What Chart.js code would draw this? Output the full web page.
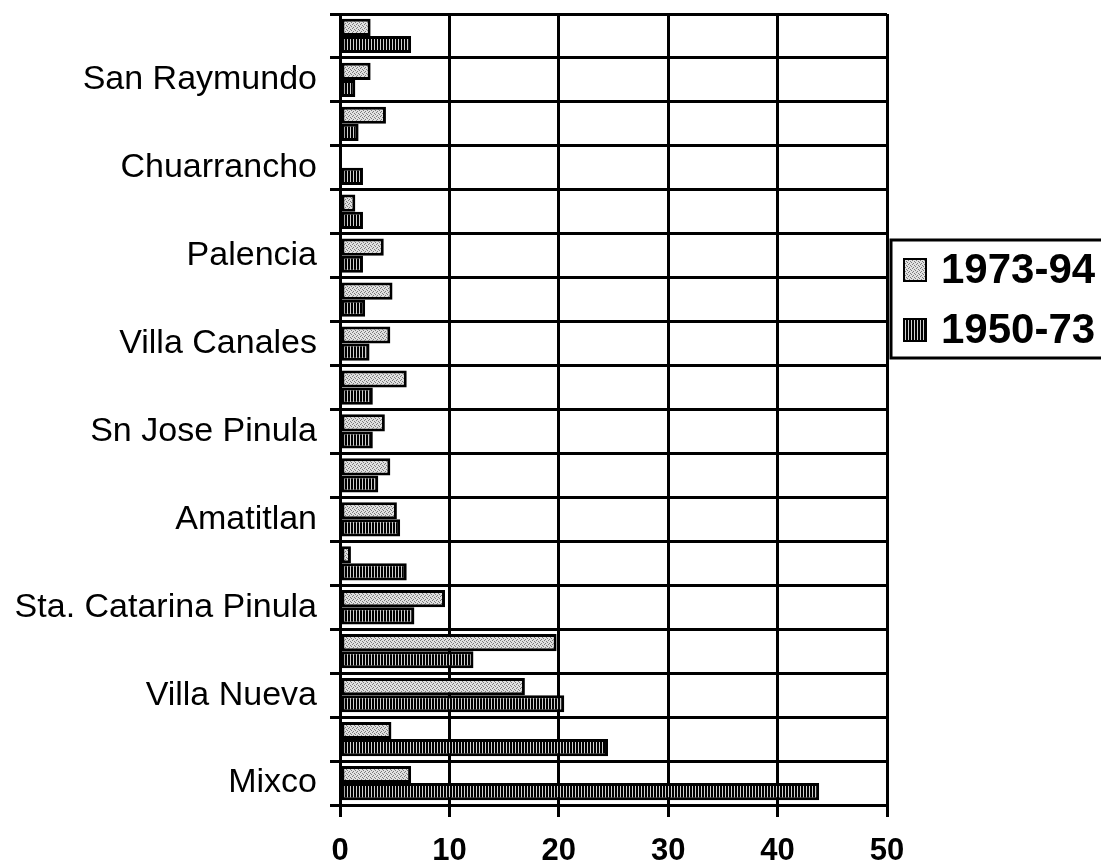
<!DOCTYPE html>
<html>
<head>
<meta charset="utf-8">
<script src="https://cdn.jsdelivr.net/npm/chart.js@4.4.0/dist/chart.umd.min.js"></script>
<style>
html,body{margin:0;padding:0;background:#fff;}
#wrap{width:1101px;height:862px;}
</style>
</head>
<body>
<div id="wrap"><canvas id="chart-mun" width="1101" height="862"></canvas></div>
<script>
// ==================================================
// Data (top to bottom, as drawn)
// ==================================================
const CATEGORIES=['','San Raymundo','','Chuarrancho','','Palencia','','Villa Canales','','Sn Jose Pinula','','Amatitlan','','Sta. Catarina Pinula','','Villa Nueva','','Mixco'];
const SERIES_NAMES=['1973-94','1950-73'];
const VALS_7394=[2.8,2.8,4.2,0,1.4,4.0,4.8,4.6,6.1,4.1,4.6,5.2,1.0,9.6,19.8,16.9,4.7,6.5];
const VALS_5073=[6.5,1.4,1.7,2.1,2.1,2.1,2.3,2.7,3.0,3.0,3.5,5.5,6.1,6.8,12.2,20.5,24.5,43.8];
const X_TICKS=[0,10,20,30,40,50];

const FONT='"Liberation Sans", Arial, sans-serif';

// ==================================================
// Fill patterns (stipple + vertical hatch)
// ==================================================
function makePattern(w,h,paint){
  const c=document.createElement('canvas');c.width=w;c.height=h;
  const g=c.getContext('2d');paint(g);
  return document.getElementById('chart-mun').getContext('2d').createPattern(c,'repeat');
}
const patLight=makePattern(4,4,g=>{
  g.fillStyle='#e0e0e0';g.fillRect(0,0,4,4);
  g.fillStyle='#7a7a7a';[[0,0],[2,1],[1,3],[3,2]].forEach(p=>g.fillRect(p[0],p[1],1,1));
});
const patDark=makePattern(3,3,g=>{
  g.fillStyle='#000';g.fillRect(0,0,3,3);
  g.fillStyle='#d0d0d0';g.fillRect(2,0,1,3);
});
const PATTERNS=[patLight,patDark];

// ==================================================
// Boxed legend on the right
// ==================================================
const boxLegend={id:'boxLegend',afterDraw(chart){
  const ctx=chart.ctx;ctx.save();
  ctx.strokeStyle='#000';ctx.lineWidth=3;
  ctx.strokeRect(891,240,215,118);
  chart.data.datasets.forEach((ds,i)=>{
    const cy=270+i*60;
    ctx.fillStyle=PATTERNS[i];ctx.fillRect(904,cy-11,22,22);
    ctx.lineWidth=2;ctx.strokeRect(904,cy-11,22,22);
    ctx.fillStyle='#000';ctx.font='bold 42px '+FONT;ctx.textBaseline='middle';ctx.textAlign='left';
    ctx.fillText(ds.label,941,cy+1);
  });
  ctx.restore();
}};

// ==================================================
// Chart
// ==================================================
const ctx=document.getElementById('chart-mun').getContext('2d');
new Chart(ctx,{type:'bar',
  data:{labels:CATEGORIES,datasets:[
    {label:SERIES_NAMES[0],data:VALS_7394,backgroundColor:patLight,borderColor:'#000',borderWidth:3,borderSkipped:false,categoryPercentage:.78,barPercentage:1},
    {label:SERIES_NAMES[1],data:VALS_5073,backgroundColor:patDark,borderColor:'#000',borderWidth:3,borderSkipped:false,categoryPercentage:.78,barPercentage:1}
  ]},
  options:{indexAxis:'y',responsive:false,devicePixelRatio:1,animation:false,
    layout:{padding:{top:14,right:214,left:0,bottom:0}},
    plugins:{legend:{display:false},tooltip:{enabled:false}},
    scales:{
      x:{min:0,max:50,afterBuildTicks:s=>{s.ticks=X_TICKS.map(v=>({value:v}));},
        afterFit:s=>{s.height=57;},
        grid:{color:'#000',lineWidth:3,tickLength:12,drawOnChartArea:true},
        border:{color:'#000',width:3},
        ticks:{color:'#000',font:{family:FONT,size:31,weight:'bold'},padding:16,maxRotation:0}},
      y:{afterFit:s=>{s.width=340;s.paddingTop=0;s.paddingBottom=0;},
        grid:{color:'#000',lineWidth:3,tickLength:10,offset:true},
        border:{color:'#000',width:3},
        ticks:{color:'#000',font:{family:FONT,size:34},padding:13,autoSkip:false}}
    }},
  plugins:[boxLegend]});
</script>
</body>
</html>
